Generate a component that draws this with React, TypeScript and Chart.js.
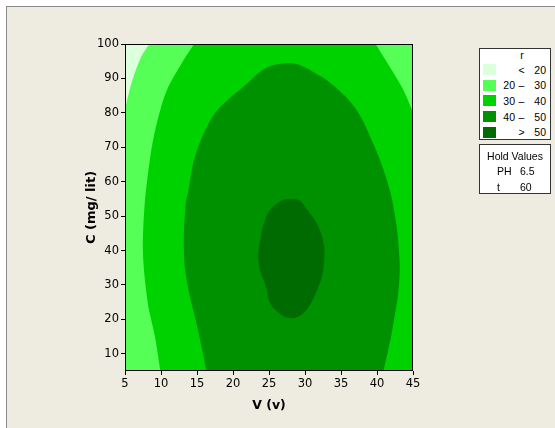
import React, { useEffect, useRef } from "react";
import { Chart, registerables } from "chart.js";

Chart.register(...registerables);

// ---- axis ticks ----
const X_TICKS = [5, 10, 15, 20, 25, 30, 35, 40, 45];
const Y_TICKS = [10, 20, 30, 40, 50, 60, 70, 80, 90, 100];
const X_TITLE = "V (v)";
const Y_TITLE = "C (mg/ lit)";

// ---- contour region boundaries (V, C) ----
// whole plot region, level 20–30
const BASE_V = [0, 50, 50, 0];
const BASE_C = [0, 0, 105, 105];
// top-left corner, level < 20
const LT20_V = [0, 9.3, 8.4, 7.3, 6.2, 5.5, 5.0, 4.66, 0];
const LT20_C = [103, 103, 100, 96.5, 90.6, 85.5, 81.2, 78.3, 78.3];
// level 30–40 (right of this boundary)
const L30_V = [15.5, 14.6, 13.1, 10.8, 9.4, 8.5, 7.7, 7.5, 8.2, 9.2, 9.9, 10.2, 60, 60];
const L30_C = [103, 100, 95.2, 86.5, 76.8, 67.1, 52.6, 38.8, 24.3, 14.6, 5, 1, 1, 103];
// top-right corner, level 20–30
const R20_V = [50, 38.9, 39.8, 42.3, 43.7, 45.0, 45.6, 50];
const R20_C = [103, 103, 100, 91.6, 86.5, 80.2, 77.2, 77.2];
// level 40–50
const L40_V = [16.7, 16.3, 15.6, 14.9, 13.8, 13.2, 13.4, 13.8, 14.7, 16.6, 18.2, 21.9, 24.4, 26.5, 28.8, 31.4, 33.7, 36.9, 39.3, 41.1, 42.3, 43.1, 43.0, 42.3, 41.7, 40.9, 40.5];
const L40_C = [1, 5, 12.4, 19.1, 28.8, 38.5, 53, 57.4, 67.1, 76.8, 81.6, 88.4, 92.8, 94.2, 94.2, 91.6, 88.4, 81.6, 71.9, 62.2, 52.5, 38.5, 28.8, 19.1, 12.4, 5, 1];
// level > 50
const G50_V = [28.1, 29.2, 30.4, 31.8, 32.6, 32.7, 32.5, 32.1, 30.9, 29.6, 28.1, 26.6, 25.1, 24.6, 23.8, 23.5, 23.8, 24.2, 25.1, 26.9, 28.1];
const G50_C = [55, 54.6, 51.6, 47.2, 42, 38.5, 34, 30.8, 25, 21.5, 20.3, 21.5, 25, 29.5, 34, 38.5, 43, 47.2, 51.6, 54.6, 55];

// ---- legend ----
const LEGEND_TITLE = "r";
const LEVEL_LOW = ["", "20", "30", "40", ""];
const LEVEL_SYM = ["<", "–", "–", "–", ">"];
const LEVEL_HIGH = ["20", "30", "40", "50", "50"];
const LEVEL_COLORS = ["#DCFFDC", "#55FF55", "#00D200", "#009100", "#006B00"];
const HOLD_TITLE = "Hold Values";
const HOLD_NAMES = ["PH", "t"];
const HOLD_VALUES = ["6.5", "60"];

const TICK_FONT = "'DejaVu Sans', sans-serif";
const LEG_FONT = "'Liberation Sans', Arial, sans-serif";

function T(props: { x: number; y: number; text: string; align?: "left" | "center" | "right"; size?: number }) {
  const { x, y, text, align = "left", size = 10.5 } = props;
  const tx = align === "left" ? "0" : align === "center" ? "-50%" : "-100%";
  return (
    <div
      style={{
        position: "absolute",
        left: x,
        top: y,
        transform: `translate(${tx}, -50%)`,
        whiteSpace: "nowrap",
        fontSize: size,
        lineHeight: 1,
        fontFamily: LEG_FONT,
        color: "#000",
      }}
    >
      {text}
    </div>
  );
}

export default function App() {
  const ref = useRef<HTMLCanvasElement>(null);

  useEffect(() => {
    if (!ref.current) return;
    const mk = (v: number[], c: number[]) => v.map((x, i) => ({ x, y: c[i] }));
    const region = (label: string, v: number[], c: number[], color: string, order: number, tension = 0.3) => ({
      type: "line" as const,
      label,
      data: mk(v, c),
      backgroundColor: color,
      borderColor: "rgba(0,0,0,0)",
      borderWidth: 0,
      pointRadius: 0,
      pointHoverRadius: 0,
      fill: "shape" as const,
      tension,
      order,
    });

    const frame = {
      id: "frame",
      afterDatasetsDraw(chart: any) {
        const { ctx, chartArea: a } = chart;
        ctx.save();
        ctx.strokeStyle = "#000";
        ctx.lineWidth = 1;
        ctx.strokeRect(Math.round(a.left) + 0.5, Math.round(a.top) + 0.5, Math.round(a.right - a.left) - 1, Math.round(a.bottom - a.top) - 1);
        ctx.restore();
      },
    };

    const chart = new Chart(ref.current, {
      type: "line",
      data: {
        datasets: [
          region("> 50", G50_V, G50_C, LEVEL_COLORS[4], 1, 0.4),
          region("40 – 50", L40_V, L40_C, LEVEL_COLORS[3], 2, 0.4),
          region("20 – 30", R20_V, R20_C, LEVEL_COLORS[1], 3),
          region("30 – 40", L30_V, L30_C, LEVEL_COLORS[2], 4),
          region("< 20", LT20_V, LT20_C, LEVEL_COLORS[0], 5),
          region("20 – 30", BASE_V, BASE_C, LEVEL_COLORS[1], 6, 0),
        ] as any,
      },
      options: {
        animation: false,
        responsive: false,
        devicePixelRatio: 1,
        events: [],
        layout: { padding: { left: 0, right: 142, top: 44, bottom: 0 } },
        elements: { line: { capBezierPoints: false } as any },
        plugins: { legend: { display: false }, tooltip: { enabled: false } },
        scales: {
          x: {
            type: "linear",
            min: 5,
            max: 45,
            afterBuildTicks: (s: any) => {
              s.ticks = X_TICKS.map((v) => ({ value: v }));
            },
            afterFit: (s: any) => {
              s.height = 57;
            },
            grid: { display: true, drawOnChartArea: false, drawTicks: true, tickLength: 4, color: "#000", lineWidth: 1 },
            border: { display: false },
            ticks: { color: "#000", padding: 2, font: { family: TICK_FONT, size: 11.5 }, maxRotation: 0, autoSkip: false },
            title: {
              display: true,
              text: X_TITLE,
              color: "#000",
              font: { family: TICK_FONT, size: 12.5, weight: "bold" },
              padding: { top: 0, bottom: 14.5 },
            },
          },
          y: {
            type: "linear",
            min: 5,
            max: 100,
            afterBuildTicks: (s: any) => {
              s.ticks = Y_TICKS.map((v) => ({ value: v }));
            },
            afterFit: (s: any) => {
              s.width = 125;
            },
            grid: { display: true, drawOnChartArea: false, drawTicks: true, tickLength: 4, color: "#000", lineWidth: 1 },
            border: { display: false },
            ticks: { color: "#000", padding: 2, font: { family: TICK_FONT, size: 11.5 }, autoSkip: false },
            title: {
              display: true,
              text: Y_TITLE,
              color: "#000",
              font: { family: TICK_FONT, size: 13, weight: "bold" },
              padding: { top: 84.2, bottom: 0 },
            },
          },
        },
      } as any,
      plugins: [frame],
    });
    return () => chart.destroy();
  }, []);

  const rowY = (i: number) => 69.5 + i * 15.7;

  return (
    <div style={{ position: "absolute", left: 0, top: 0, width: 555, height: 428, overflow: "hidden", background: "#fff" }}>
      <div
        style={{
          position: "absolute",
          left: 6,
          top: 6,
          width: 600,
          height: 500,
          background: "#EEEBE1",
          borderLeft: "1px solid #8a8a8a",
          borderTop: "1px solid #8a8a8a",
        }}
      />
      <canvas ref={ref} width={555} height={428} style={{ position: "absolute", left: 0, top: 0, width: 555, height: 428 }} />
      <div
        style={{
          position: "absolute",
          left: 479,
          top: 48,
          width: 72,
          height: 92,
          boxSizing: "border-box",
          border: "1px solid #333",
          background: "#fff",
        }}
      />
      <T x={522} y={55} text={LEGEND_TITLE} align="center" />
      {LEVEL_COLORS.map((c, i) => (
        <React.Fragment key={i}>
          <div style={{ position: "absolute", left: 483, top: rowY(i) - 5.5, width: 13, height: 11, background: c }} />
          {LEVEL_LOW[i] ? <T x={515} y={rowY(i)} text={LEVEL_LOW[i]} align="right" /> : null}
          <T x={521.5} y={rowY(i)} text={LEVEL_SYM[i]} align="center" />
          <T x={546} y={rowY(i)} text={LEVEL_HIGH[i]} align="right" />
        </React.Fragment>
      ))}
      <div
        style={{
          position: "absolute",
          left: 479,
          top: 144,
          width: 72,
          height: 50,
          boxSizing: "border-box",
          border: "1px solid #333",
          background: "#fff",
        }}
      />
      <T x={515} y={155.5} text={HOLD_TITLE} align="center" />
      {HOLD_NAMES.map((n, i) => (
        <React.Fragment key={n}>
          <T x={497} y={171 + i * 16} text={n} />
          <T x={520} y={171 + i * 16} text={HOLD_VALUES[i]} />
        </React.Fragment>
      ))}
    </div>
  );
}
